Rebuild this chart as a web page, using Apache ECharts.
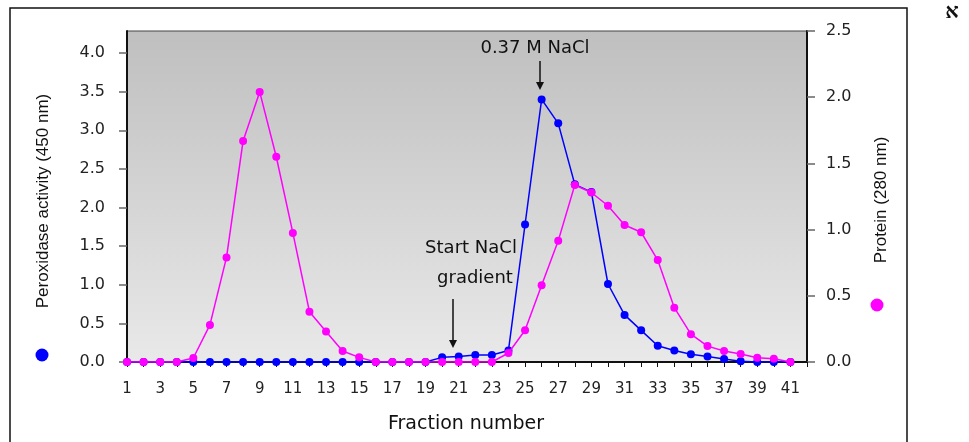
<!DOCTYPE html>
<html>
<head>
<meta charset="utf-8">
<script src="https://cdn.jsdelivr.net/npm/echarts@6/dist/echarts.min.js"></script>
<style>
html,body{margin:0;padding:0;background:#fff;}
#c{width:969px;height:442px;}
</style>
</head>
<body>
<div id="c"></div>
<script>
// Data
var fractions = [1,2,3,4,5,6,7,8,9,10,11,12,13,14,15,16,17,18,19,20,21,22,23,24,25,26,27,28,29,30,31,32,33,34,35,36,37,38,39,40,41];
var peroxidase = [0,0,0,0,0,0,0,0,0,0,0,0,0,0,0,0,0,0,0,0.06,0.07,0.09,0.09,0.15,1.78,3.40,3.09,2.30,2.20,1.01,0.61,0.41,0.21,0.15,0.10,0.07,0.04,0.01,0,0,0];
var protein = [0,0,0,0,0.03,0.28,0.79,1.67,2.04,1.55,0.975,0.38,0.23,0.083,0.035,0,0,0,0,0,0,0,0,0.068,0.24,0.58,0.915,1.337,1.28,1.18,1.035,0.98,0.77,0.41,0.21,0.12,0.083,0.06,0.032,0.025,0];
var leftTicks = [0,0.5,1.0,1.5,2.0,2.5,3.0,3.5,4.0];
var rightTicks = [0,0.5,1.0,1.5,2.0,2.5];
var xLabels = [1,3,5,7,9,11,13,15,17,19,21,23,25,27,29,31,33,35,37,39,41];

var chart = echarts.init(document.getElementById('c'), null, {renderer:'canvas'});
var font = 'DejaVu Sans';
function pairs(xs, ys){ return xs.map(function(x,i){return [x, ys[i]];}); }

chart.setOption({
  animation:false,
  backgroundColor:'#fff',
  grid:{left:127, top:31, right:162, bottom:80, show:true, borderColor:'#444', borderWidth:1,
    backgroundColor: new echarts.graphic.LinearGradient(0,0,0,1,[{offset:0,color:'#bfbfbf'},{offset:1,color:'#e9e9e9'}])},
  xAxis:{type:'value', min:1, max:42, interval:1,
    axisLine:{lineStyle:{color:'#111', width:2}},
    axisTick:{show:true, inside:false, length:5, lineStyle:{color:'#111', width:1}},
    axisLabel:{margin:20, color:'#222', fontFamily:font, fontSize:15,
      formatter:function(v){ return xLabels.indexOf(v) >= 0 ? String(v) : ''; }},
    splitLine:{show:false}},
  yAxis:[
    {type:'value', min:0, max:4.2857, position:'left',
      axisLine:{show:true, lineStyle:{color:'#111', width:2}},
      axisTick:{show:true, length:8, customValues:leftTicks, lineStyle:{color:'#666', width:1.5}},
      axisLabel:{margin:22, color:'#222', fontFamily:font, fontSize:16, customValues:leftTicks,
        formatter:function(v){return v.toFixed(1);}},
      splitLine:{show:false}},
    {type:'value', min:0, max:2.5, interval:0.5, position:'right',
      axisLine:{show:true, lineStyle:{color:'#111', width:2}},
      axisTick:{show:true, length:8, lineStyle:{color:'#666', width:1.5}},
      axisLabel:{margin:19, color:'#222', fontFamily:font, fontSize:16,
        formatter:function(v){return v.toFixed(1);}},
      splitLine:{show:false}}
  ],
  series:[
    {name:'Peroxidase', type:'line', yAxisIndex:0, data:pairs(fractions, peroxidase),
      symbol:'circle', symbolSize:8, itemStyle:{color:'#0000ff'}, lineStyle:{color:'#0000ff', width:1.5}, z:3},
    {name:'Protein', type:'line', yAxisIndex:1, data:pairs(fractions, protein),
      symbol:'circle', symbolSize:8, itemStyle:{color:'#ff00ff'}, lineStyle:{color:'#ff00ff', width:1.5}, z:4}
  ],
  graphic:[
    {type:'rect', shape:{x:10, y:8, width:897, height:460}, style:{fill:'none', stroke:'#111', lineWidth:1.5}, z:0},
    {type:'text', x:43, y:201, rotation:Math.PI/2, style:{text:'Peroxidase activity (450 nm)', font:'17px "Liberation Sans"', fill:'#111', textAlign:'center', textVerticalAlign:'middle'}},
    {type:'text', x:881, y:200, rotation:Math.PI/2, style:{text:'Protein (280 nm)', font:'17px "Liberation Sans"', fill:'#111', textAlign:'center', textVerticalAlign:'middle'}},
    {type:'text', x:466, y:424, style:{text:'Fraction number', font:'19px "DejaVu Sans"', fill:'#111', textAlign:'center', textVerticalAlign:'middle'}},
    {type:'circle', shape:{cx:42, cy:355, r:6.5}, style:{fill:'#0000ff'}},
    {type:'circle', shape:{cx:877, cy:305, r:6.5}, style:{fill:'#ff00ff'}},
    {type:'text', x:952, y:13, style:{text:'א', font:'bold 21px "DejaVu Serif"', fill:'#111', textAlign:'center', textVerticalAlign:'middle'}},
    {type:'text', x:535, y:48, z:10, style:{text:'0.37 M NaCl', font:'18px "DejaVu Sans"', fill:'#111', textAlign:'center', textVerticalAlign:'middle'}},
    {type:'line', z:10, shape:{x1:540, y1:61, x2:540, y2:84}, style:{stroke:'#111', lineWidth:1.5}},
    {type:'polygon', z:10, shape:{points:[[536,82],[544,82],[540,90]]}, style:{fill:'#111'}},
    {type:'text', x:471, y:248, z:10, style:{text:'Start NaCl', font:'18px "DejaVu Sans"', fill:'#111', textAlign:'center', textVerticalAlign:'middle'}},
    {type:'text', x:475, y:278, z:10, style:{text:'gradient', font:'18px "DejaVu Sans"', fill:'#111', textAlign:'center', textVerticalAlign:'middle'}},
    {type:'line', z:10, shape:{x1:453, y1:299, x2:453, y2:342}, style:{stroke:'#111', lineWidth:1.5}},
    {type:'polygon', z:10, shape:{points:[[449,340],[457,340],[453,348]]}, style:{fill:'#111'}}
  ]
});
</script>
</body>
</html>
